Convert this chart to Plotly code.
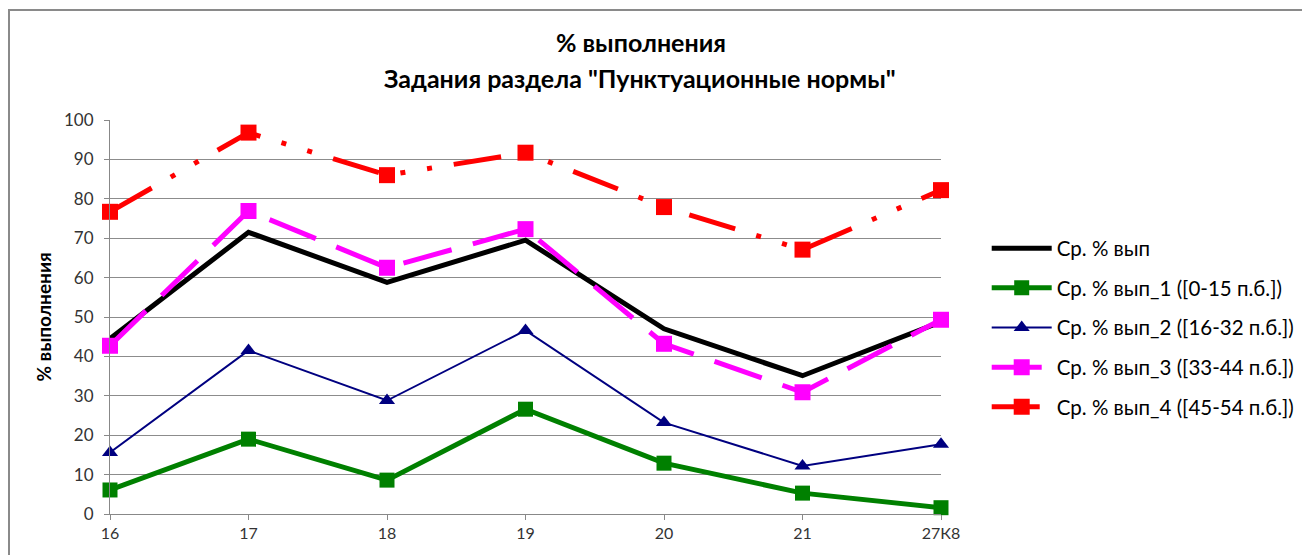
import plotly.graph_objects as go

categories = ["16", "17", "18", "19", "20", "21", "27К8"]

avg_all = [44.5, 71.5, 58.8, 69.5, 47.0, 35.1, 48.8]
avg_g1 = [6.1, 19.0, 8.6, 26.6, 12.9, 5.3, 1.6]
avg_g2 = [15.6, 41.5, 28.8, 46.6, 23.2, 12.2, 17.7]
avg_g3 = [42.7, 76.9, 62.5, 72.3, 43.2, 30.9, 49.3]
avg_g4 = [76.7, 96.8, 86.0, 91.7, 77.9, 67.1, 82.2]

names = [
    "Ср. % вып",
    "Ср. % вып_1 ([0-15 п.б.])",
    "Ср. % вып_2 ([16-32 п.б.])",
    "Ср. % вып_3 ([33-44 п.б.])",
    "Ср. % вып_4 ([45-54 п.б.])",
]
title_1 = "% выполнения"
title_2 = "Задания раздела \"Пунктуационные нормы\""
y_title = "% выполнения"

FONT = "Lato, 'Open Sans', sans-serif"

fig = go.Figure()

# black average, no markers
fig.add_trace(go.Scatter(
    x=categories, y=avg_all, mode="lines", name=names[0],
    line=dict(color="#000000", width=5),
    legendgroup="g0", cliponaxis=False,
))
fig.add_trace(go.Scatter(
    x=categories, y=avg_g1, mode="lines+markers", name=names[1],
    line=dict(color="#008000", width=5),
    marker=dict(symbol="square", size=15, color="#008000"),
    legendgroup="g1", cliponaxis=False,
))
fig.add_trace(go.Scatter(
    x=categories, y=avg_g2, mode="lines+markers", name=names[2],
    line=dict(color="#000080", width=2),
    marker=dict(symbol="triangle-up", size=14, color="#000080"),
    legendgroup="g2", cliponaxis=False,
))
fig.add_trace(go.Scatter(
    x=categories, y=avg_g3, mode="lines+markers", name=names[3],
    line=dict(color="#FF00FF", width=5, dash="50px,22px"),
    marker=dict(symbol="square", size=16, color="#FF00FF"),
    legendgroup="g3", cliponaxis=False,
))
fig.add_trace(go.Scatter(
    x=categories, y=avg_g4, mode="lines+markers", name=names[4],
    line=dict(color="#FF0000", width=5, dash="48px,22px,5px,22px,5px,22px"),
    marker=dict(symbol="square", size=16, color="#FF0000"),
    legendgroup="g4", cliponaxis=False,
))

# page body adds an 8px offset, margins compensate for it
fig.update_layout(
    width=1310, height=555,
    margin=dict(l=102, r=377, t=112, b=49),
    paper_bgcolor="white", plot_bgcolor="white",
    font=dict(family=FONT, color="#333333"),
    title=dict(
        text=title_1,
        x=0.4832, xanchor="center", y=1 - 35 / 555, yanchor="middle",
        font=dict(size=25, family=FONT, color="#000000", weight="bold"),
    ),
    legend=dict(
        x=1.055, xanchor="left", y=0.725, yanchor="top",
        font=dict(size=20.5, family=FONT, color="#000000"),
        tracegroupgap=10, itemwidth=60, bgcolor="rgba(0,0,0,0)",
    ),
    showlegend=True,
)

fig.add_annotation(
    text=title_2, xref="paper", yref="paper",
    x=0.6375, y=(514 - 78) / 394, xanchor="center", yanchor="middle",
    showarrow=False,
    font=dict(size=25, family=FONT, color="#000000", weight="bold"),
)

fig.update_xaxes(
    type="category", range=[0, 6], automargin=False,
    showline=True, linecolor="#888888", linewidth=1,
    ticks="outside", ticklen=5, tickcolor="#888888",
    showgrid=False, zeroline=False,
    tickfont=dict(size=16, color="#333333"),
)
fig.update_yaxes(
    range=[0, 100], dtick=10, automargin=False,
    showline=True, linecolor="#888888", linewidth=1,
    ticks="outside", ticklen=5, tickcolor="#888888",
    ticklabelstandoff=7,
    showgrid=True, gridcolor="#8c8c8c", gridwidth=1,
    zeroline=False,
    tickfont=dict(size=17, color="#333333"),
    title=dict(text="<b>" + y_title + "</b>", standoff=7,
               font=dict(size=19, color="#000000")),
)

# chart frame
fig.add_shape(
    type="rect", xref="paper", yref="paper",
    x0=(9 - 110) / 831, x1=1.46, y0=-0.3, y1=(514 - 10) / 394,
    line=dict(color="#8a8a8a", width=2), fillcolor="rgba(0,0,0,0)",
    layer="below",
)

fig.write_html("out.html")
